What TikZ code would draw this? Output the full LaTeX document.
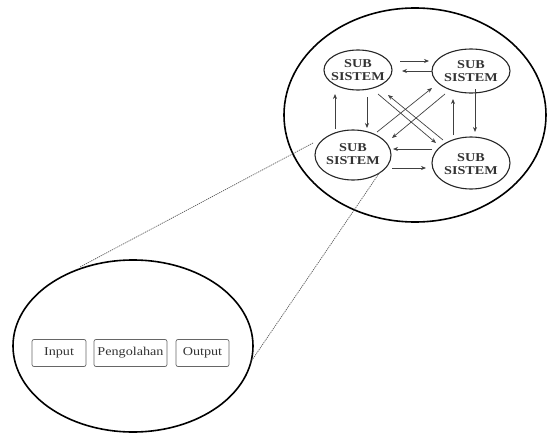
\documentclass[tikz,border=0pt]{standalone}
\usepackage{fontspec}
\setmainfont{Liberation Serif}
\newfontfamily\stretchfont[FakeStretch=1.18]{Liberation Serif}
\usetikzlibrary{shapes.geometric,arrows.meta,calc}
\begin{document}
\begin{tikzpicture}[x=1pt,y=-1pt,
  ell/.style={ellipse,draw=black,line width=1.6pt,inner sep=0pt},
  sub/.style={ellipse,draw=black!85,line width=1.1pt,inner sep=0pt},
  subtxt/.style={inner sep=0pt,align=center,text=black!80,font=\stretchfont\fontsize{12}{12.5}\selectfont\bfseries},
  arr/.style={draw=black!75,line width=0.7pt,-{Stealth[length=5pt,width=4pt]}},
  box/.style={draw=black!60,rounded corners=2pt,line width=0.7pt,minimum height=27pt,inner sep=0pt,text=black!80,font=\stretchfont\fontsize{12}{12}\selectfont},
  link/.style={draw=black!65,line width=0.7pt,dash pattern=on 1.2pt off 0.9pt}]
\useasboundingbox (0,0) rectangle (547,434);
% big ellipse
\node[ell,minimum width=262pt,minimum height=214pt] (big) at (415,115) {};
% subsystems
\node[sub,minimum width=68pt,minimum height=40pt] (tl) at (358,70) {};
\node[sub,minimum width=78pt,minimum height=44pt] (tr) at (471,71) {};
\node[sub,minimum width=76pt,minimum height=50pt] (bl) at (353,155) {};
\node[sub,minimum width=78pt,minimum height=52pt] (br) at (471,163) {};
\node[subtxt] (tlt) at (358,70) {SUB\\SISTEM};
\node[subtxt] (trt) at (471,71) {SUB\\SISTEM};
\node[subtxt] (blt) at (353,154) {SUB\\SISTEM};
\node[subtxt] (brt) at (471,164) {SUB\\SISTEM};
% horizontal arrows
\draw[arr] ($(tl)+(42,-9)$) -- ($(tr)+(-42,-10)$);
\draw[arr] ($(tr)+(-39,0)$) -- ($(tl)+(44,1)$);
\draw[arr] ($(br)+(-39,-14)$) -- ($(bl)+(40,-6)$);
\draw[arr] ($(bl)+(39,13)$) -- ($(br)+(-45,5)$);
% vertical arrows
\draw[arr] ($(tl)+(9,27)$) -- ($(bl)+(14,-27)$);
\draw[arr] ($(bl)+(-18,-26)$) -- ($(tl)+(-23,24)$);
\draw[arr] ($(tr)+(4,18)$) -- ($(br)+(4,-31)$);
\draw[arr] ($(br)+(-18,-28)$) -- ($(tr)+(-18,28)$);
% diagonal arrows
\draw[arr] ($(tl)+(20,24)$) -- ($(br)+(-35,-20)$);
\draw[arr] ($(br)+(-28,-23)$) -- ($(tl)+(30,25)$);
\draw[arr] ($(tr)+(-26,23)$) -- ($(bl)+(39,-17)$);
\draw[arr] ($(bl)+(24,-23)$) -- ($(tr)+(-39,17)$);
% small ellipse
\node[ell,minimum width=240pt,minimum height=172pt] (sm) at (133,346) {};
% dashed zoom lines
\draw[link] ($(bl)+(-40,-12)$) -- ($(sm)+(-53,-79)$);
\draw[link] ($(bl)+(27,17)$) -- ($(sm)+(117,17)$);
% boxes
\node[box,minimum width=54pt] (in) at (59,353) {Input};
\node[box,minimum width=73pt] (pr) at (130.5,353) {Pengolahan};
\node[box,minimum width=53pt] (out) at (202.5,353) {Output};
\end{tikzpicture}
\end{document}
